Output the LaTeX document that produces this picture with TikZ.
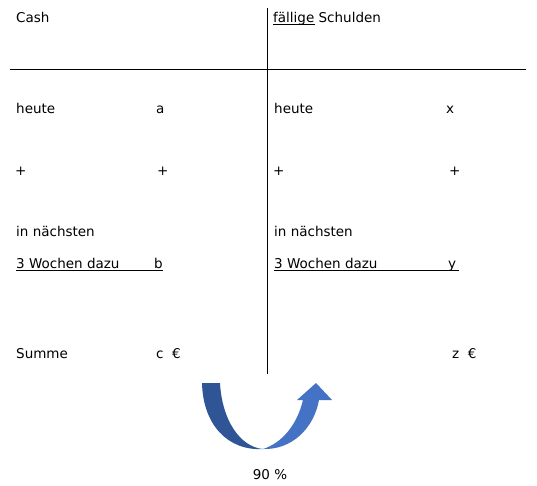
\documentclass[tikz,border=0pt]{standalone}
\usepackage{fontspec}
\setmainfont{DejaVu Sans}
\begin{document}
\begin{tikzpicture}[x=1pt,y=-1pt,
  lbl/.style={anchor=base west,inner sep=0pt,font=\fontsize{13.5}{15}\selectfont},
  rule/.style={line width=1pt,black},
  uline/.style={line width=0.8pt,black}]
\useasboundingbox (0,0) rectangle (537,485);
\fill[white] (0,0) rectangle (537,485);
% grid lines
\coordinate (vt) at (267,8);
\coordinate (vb) at (267,374);
\coordinate (hl) at (10,69);
\coordinate (hr) at (526,69);
\draw[rule] (vt) -- (vb);
\draw[rule] (hl) -- (hr);
% header
\node[lbl] (cash) at (16,22) {Cash};
\node[lbl] (faellig) at (273,22) {fällige Schulden};
\coordinate (u1a) at (273,24);
\coordinate (u1b) at (315,24);
\draw[uline] (u1a) -- (u1b);
% left column
\node[lbl] (lheute) at (16,113) {heute};
\node[lbl] (la) at (156,113) {a};
\node[lbl] (lplus) at (15,175) {+};
\node[lbl] (lplus2) at (157,175) {+};
\node[lbl] (lnext) at (16,236.5) {in nächsten};
\node[lbl] (lwochen) at (16,268) {3 Wochen dazu};
\node[lbl] (lb) at (154,268) {b};
\coordinate (u2a) at (16,270.5);
\coordinate (u2b) at (163,270.5);
\draw[uline] (u2a) -- (u2b);
\node[lbl] (lsumme) at (16,358) {Summe};
\node[lbl] (lc) at (156,358) {c~~€};
% right column
\node[lbl] (rheute) at (274,113) {heute};
\node[lbl] (rx) at (446,113) {x};
\node[lbl] (rplus) at (273,175) {+};
\node[lbl] (rplus2) at (449,175) {+};
\node[lbl] (rnext) at (274,236.5) {in nächsten};
\node[lbl] (rwochen) at (274,268) {3 Wochen dazu};
\node[lbl] (ry) at (448,268) {y};
\coordinate (u3a) at (274,270.5);
\coordinate (u3b) at (459,270.5);
\draw[uline] (u3a) -- (u3b);
\node[lbl] (rz) at (452,358) {z~~€};
% curved arrow
\definecolor{darkblu}{RGB}{47,85,151}
\definecolor{lightblu}{RGB}{68,114,196}
\fill[darkblu] (202,383) -- (220,383)
  .. controls (222,420) and (240,447) .. (263,449)
  .. controls (228,451) and (203,425) .. (202,383) -- cycle;
\fill[lightblu] (263,449)
  .. controls (292,450) and (314,428) .. (319,400)
  -- (332,400) -- (316,383) -- (297,400) -- (303,400)
  .. controls (297,425) and (282,443) .. (263,449) -- cycle;
\node[lbl,anchor=base] (pct) at (270,479) {90 \%};
\end{tikzpicture}
\end{document}
